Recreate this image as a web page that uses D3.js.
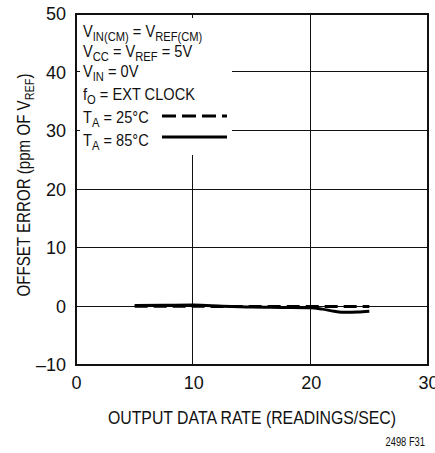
<!DOCTYPE html>
<html>
<head>
<meta charset="utf-8">
<script src="https://cdn.jsdelivr.net/npm/d3@7"></script>
<style>
  body { margin: 0; background: #fff; }
  svg { display: block; }
  text { font-family: "Liberation Sans", Arial, sans-serif; fill: #111; }
</style>
</head>
<body>
<svg width="435" height="453"></svg>
<script>
// offset error vs output data rate
const rate = [5, 7.5, 10, 12.5, 15, 17.5, 20, 21, 22, 23, 24, 25];
const err25 = [0.05, 0.05, 0.05, 0, 0, 0, 0, 0, 0, 0, 0, 0];
const err85 = [0.15, 0.2, 0.25, 0.05, -0.1, -0.15, -0.2, -0.45, -0.8, -1.0, -0.95, -0.8];
const xTicks = [0, 10, 20, 30];
const yTicks = [-10, 0, 10, 20, 30, 40, 50];
const legendLines = [
  [["V", ""], ["IN(CM)", "sub"], [" = V", ""], ["REF(CM)", "sub"]],
  [["V", ""], ["CC", "sub"], [" = V", ""], ["REF", "sub"], [" = 5V", ""]],
  [["V", ""], ["IN", "sub"], [" = 0V", ""]],
  [["f", ""], ["O", "sub"], [" = EXT CLOCK", ""]],
  [["T", ""], ["A", "sub"], [" = 25°C", ""]],
  [["T", ""], ["A", "sub"], [" = 85°C", ""]]
];

const plot = {left: 76, right: 428, top: 14, bottom: 365};
const svg = d3.select("svg");

const x = d3.scaleLinear().domain([0, 30]).range([plot.left, plot.right]);
const y = d3.scaleLinear().domain([-10, 50]).range([plot.bottom, plot.top]);

// the original uses a narrow face, so squeeze text horizontally
function narrowText(px, py, k, rot) {
  return svg.append("text")
    .attr("transform", `translate(${px},${py})` + (rot ? ` rotate(${rot})` : "") + ` scale(${k},1)`);
}

// grid
const grid = svg.append("g").attr("stroke", "#111").attr("stroke-width", 1);
grid.selectAll(".gx").data(xTicks.slice(1, -1)).enter().append("line")
  .attr("x1", d => Math.round(x(d)) - 0.5).attr("x2", d => Math.round(x(d)) - 0.5)
  .attr("y1", plot.top).attr("y2", plot.bottom);
grid.selectAll(".gy").data(yTicks.slice(1, -1)).enter().append("line")
  .attr("x1", plot.left).attr("x2", plot.right)
  .attr("y1", d => Math.round(y(d)) - 0.5).attr("y2", d => Math.round(y(d)) - 0.5);

// legend box hides the grid in the top-left corner, leaving small ticks
svg.append("rect").attr("x", plot.left + 4).attr("y", plot.top + 4)
  .attr("width", 232 - plot.left - 4).attr("height", 155 - plot.top - 4)
  .attr("fill", "#fff");

// frame
svg.append("rect").attr("x", plot.left).attr("y", plot.top)
  .attr("width", plot.right - plot.left).attr("height", plot.bottom - plot.top)
  .attr("fill", "none").attr("stroke", "#111").attr("stroke-width", 2);

// axis labels
const xAxis = d3.axisBottom(x).tickValues(xTicks).tickSize(0).tickPadding(11);
svg.append("g").attr("transform", `translate(0,${plot.bottom})`).call(xAxis)
  .call(g => g.select(".domain").remove())
  .selectAll("text").attr("font-size", 18).attr("font-family", null).attr("fill", "#111");

const yAxis = d3.axisLeft(y).tickValues(yTicks).tickSize(0).tickPadding(10)
  .tickFormat(d => d < 0 ? "\u2013" + Math.abs(d) : d);
svg.append("g").attr("transform", `translate(${plot.left},0)`).call(yAxis)
  .call(g => g.select(".domain").remove())
  .selectAll("text").attr("font-size", 18).attr("font-family", null).attr("fill", "#111");

// curves
const line = d3.line().x(d => x(d[0])).y(d => y(d[1])).curve(d3.curveMonotoneX);
svg.append("path").datum(d3.zip(rate, err85)).attr("d", line)
  .attr("fill", "none").attr("stroke", "#000").attr("stroke-width", 3);
svg.append("path").datum(d3.zip(rate, err25)).attr("d", line)
  .attr("fill", "none").attr("stroke", "#000").attr("stroke-width", 3)
  .attr("stroke-dasharray", "13,6");

// legend text
const baselines = [37, 57, 77, 100, 123, 146];
legendLines.forEach((parts, i) => {
  const t = narrowText(83, baselines[i], 0.86).attr("font-size", 17);
  let down = 0;
  parts.forEach(p => {
    const s = t.append("tspan").text(p[0]);
    const want = p[1] === "sub" ? 4 : 0;
    s.attr("dy", want - down);
    if (p[1] === "sub") s.attr("font-size", 13);
    down = want;
  });
});
svg.append("line").attr("x1", 162).attr("x2", 227).attr("y1", 116).attr("y2", 116)
  .attr("stroke", "#000").attr("stroke-width", 3).attr("stroke-dasharray", "14,6");
svg.append("line").attr("x1", 162).attr("x2", 227).attr("y1", 137).attr("y2", 137)
  .attr("stroke", "#000").attr("stroke-width", 3);

// titles
narrowText(252, 424, 0.88).attr("text-anchor", "middle")
  .attr("font-size", 18).text("OUTPUT DATA RATE (READINGS/SEC)");
const yt = narrowText(30, 185, 0.84, -90).attr("text-anchor", "middle").attr("font-size", 18);
yt.append("tspan").text("OFFSET ERROR (ppm OF V");
yt.append("tspan").text("REF").attr("font-size", 13).attr("dy", 4);
yt.append("tspan").text(")").attr("dy", -4);

narrowText(425, 446, 0.78).attr("text-anchor", "end")
  .attr("font-size", 12).text("2498 F31");
</script>
</body>
</html>
